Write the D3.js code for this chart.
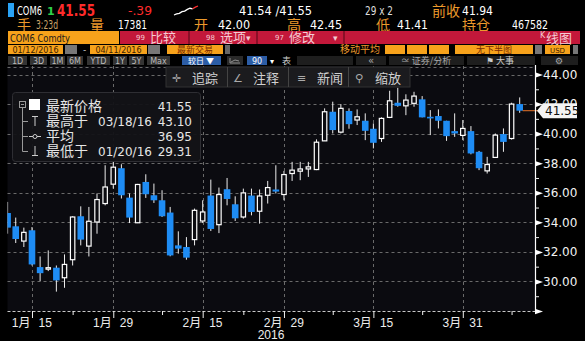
<!DOCTYPE html>
<html>
<head>
<meta charset="utf-8">
<script src="https://cdn.jsdelivr.net/npm/d3@7"></script>
<style>
body { margin: 0; background: #000; }
svg { display: block; }
text { font-family: "DejaVu Sans", "Noto Sans CJK SC", sans-serif; }
</style>
</head>
<body>
<script>
// trading days shown, 01/12/2016 - 04/11/2016
var dates = ["01/12","01/13","01/14","01/15","01/18","01/19","01/20","01/21","01/22","01/25",
  "01/26","01/27","01/28","01/29","02/01","02/02","02/03","02/04","02/05","02/08",
  "02/09","02/10","02/11","02/12","02/15","02/16","02/17","02/18","02/19","02/22",
  "02/23","02/24","02/25","02/26","02/29","03/01","03/02","03/03","03/04","03/07",
  "03/08","03/09","03/10","03/11","03/14","03/15","03/16","03/17","03/18","03/21",
  "03/22","03/23","03/24","03/28","03/29","03/30","03/31","04/01","04/04","04/05",
  "04/06","04/07","04/08","04/11"];
var opens = [34.63,33.73,32.73,33.46,30.97,30.83,30.93,30.25,31.47,34.41,
  32.39,34.02,35.27,36.58,37.66,35.67,33.97,36.73,35.83,35.49,
  34.66,32.44,32.33,32.83,34.09,35.81,33.84,36.24,35.22,34.36,
  35.81,34.75,35.83,36.22,35.88,37.30,37.46,37.61,37.57,39.51,
  41.48,40.10,41.53,40.92,40.87,40.33,39.67,41.10,42.09,41.88,
  42.05,42.32,41.14,41.19,40.87,40.17,39.88,40.17,38.77,37.48,
  38.39,39.97,39.67,42.00];
var highs = [35.38,34.32,33.64,33.68,31.69,32.10,31.08,31.83,34.41,35.08,
  35.04,35.95,37.86,38.09,37.93,35.95,36.60,37.25,36.62,36.17,
  35.04,33.39,33.00,34.93,35.49,36.89,36.35,37.00,35.76,36.28,
  36.28,36.22,36.80,37.86,37.48,38.09,38.09,38.09,39.61,41.71,
  42.16,42.00,41.71,41.64,41.37,40.69,41.10,42.90,43.10,42.66,
  42.83,42.54,41.59,41.64,40.87,41.37,40.92,40.51,38.83,38.43,
  40.01,40.35,42.09,42.45];
var lows = [33.23,32.60,32.33,31.08,30.02,30.70,29.31,29.57,31.08,32.44,
  31.69,33.23,35.15,36.28,35.61,33.95,33.95,35.65,35.31,34.36,
  31.70,31.88,31.47,32.44,33.95,33.41,33.27,35.15,34.09,34.25,
  34.47,33.91,35.27,35.95,35.49,36.80,36.85,37.07,37.53,39.50,
  40.01,40.01,40.33,40.58,39.56,39.00,39.44,41.05,41.82,41.25,
  41.82,41.10,39.90,40.35,39.51,39.78,39.56,38.60,37.53,37.30,
  38.35,38.77,39.60,41.41];
var closes = [33.64,32.87,33.32,31.15,30.56,30.93,30.07,31.15,34.36,32.83,
  34.07,35.54,36.39,37.73,35.83,34.32,36.56,35.90,35.49,34.41,
  31.76,32.22,31.61,34.81,34.70,33.55,35.88,35.58,34.27,35.99,
  34.70,35.78,36.35,36.08,37.23,37.53,37.61,37.75,39.42,41.48,
  40.24,41.71,40.64,41.14,40.19,39.38,41.03,42.22,41.88,42.27,
  42.54,41.10,41.03,40.87,39.83,40.01,40.35,38.66,37.66,37.91,
  39.90,39.44,42.00,41.55];

var majorDates = ["01/15","01/29","02/15","02/29","03/15","03/31"];
var majorLabels = [["1月","15"],["1月","29"],["2月","15"],["2月","29"],["3月","15"],["3月","31"]];
var minorDates = ["01/22","02/08","02/22","03/08","03/23","04/08"];
var yTicks = [28, 30, 32, 34, 36, 38, 40, 42, 44];
var yMinor = [29, 31, 33, 35, 37, 39, 41, 43];

var lastPrice = 41.55;
var legendRows = [
    ["最新价格", "", "41.55"],
    ["最高于", "03/18/16", "43.10"],
    ["平均", "", "36.95"],
    ["最低于", "01/20/16", "29.31"]
];
var spark = [0, 1, 1.5, 3, 3.5, 5, 6, 5.5, 7, 8];

var W = 585, H = 341;
var plot = {left: 7.5, right: 535, top: 66, bottom: 311};

var svg = d3.select("body").append("svg")
    .attr("width", W)
    .attr("height", H);

svg.append("rect").attr("width", W).attr("height", H).attr("fill", "#000");

function label(g, x, y, s, o) {
    o = o || {};
    var t = g.append("text")
        .attr("x", x)
        .attr("y", y)
        .attr("fill", o.fill || "#fff")
        .style("font-size", (o.size || 12) + "px")
        .text(s);
    if (o.anchor) t.attr("text-anchor", o.anchor);
    if (o.bold) t.style("font-weight", "bold");
    if (o.family) t.style("font-family", o.family);
    if (o.len) t.attr("textLength", o.len).attr("lengthAdjust", "spacingAndGlyphs");
    return t;
}
function box(g, x0, y0, x1, y1, fill) {
    return g.append("rect")
        .attr("x", x0).attr("y", y0)
        .attr("width", x1 - x0).attr("height", y1 - y0)
        .attr("fill", fill);
}

// ---------- header ----------
var hd = svg.append("g");
var orange = "#ec9a2c";
var cjk = "Noto Sans CJK SC";

box(hd, 8, 3, 14, 17, "#2aa3f5");
label(hd, 17, 15, "COM6", {size: 12, len: 25});
label(hd, 47, 15, "1", {size: 11, fill: "#2fd04a", bold: true});
label(hd, 57, 16, "41.55", {size: 15, fill: "#ff2b2b", bold: true, len: 38});
label(hd, 128, 15, "-.39", {size: 13, fill: "#ff2b2b", len: 24});

var sx = d3.scaleLinear().domain([0, spark.length - 1]).range([174, 198]);
var sy = d3.scaleLinear().domain([0, 8]).range([15, 6]);
hd.append("path")
    .datum(spark.slice(0, 8))
    .attr("d", d3.line().x((d, i) => sx(i)).y(d => sy(d)))
    .attr("fill", "none").attr("stroke", "#fff").attr("stroke-width", 1.3);
hd.append("path")
    .datum(spark.slice(7))
    .attr("d", d3.line().x((d, i) => sx(i + 7)).y(d => sy(d)))
    .attr("fill", "none").attr("stroke", "#ff3030").attr("stroke-width", 1.3);

label(hd, 239, 15, "41.54 /41.55", {size: 12, len: 73});
label(hd, 365, 15, "29 x 2", {size: 12, fill: "#ddd", len: 28});
label(hd, 432, 16, "前收", {size: 14, fill: orange, family: cjk});
label(hd, 462, 15, "41.94", {size: 12, len: 31});

label(hd, 17, 30, "手", {size: 14, fill: orange, family: cjk});
label(hd, 36, 29, "3:23d", {size: 12, fill: "#c9a36a", len: 22});
label(hd, 90, 30, "量", {size: 14, fill: orange, family: cjk});
label(hd, 118, 29, "17381", {size: 12, len: 29});
label(hd, 194, 30, "开", {size: 14, fill: orange, family: cjk});
label(hd, 218, 29, "42.00", {size: 12, len: 32});
label(hd, 287, 30, "高", {size: 14, fill: orange, family: cjk});
label(hd, 310, 29, "42.45", {size: 12, len: 32});
label(hd, 376, 30, "低", {size: 14, fill: orange, family: cjk});
label(hd, 397, 29, "41.41", {size: 12, len: 31});
label(hd, 462, 30, "持仓", {size: 14, fill: orange, family: cjk});
label(hd, 512, 29, "467582", {size: 12, len: 36});

// red command bar
box(hd, 8, 31, 119, 44, "#f7a21b");
label(hd, 10, 41.5, "COM6 Comdty", {size: 10, fill: "#1a1a1a", len: 60});
box(hd, 120, 31, 580, 44, "#c3183a");
box(hd, 188, 31, 190, 44, "#8a0f27");
box(hd, 256, 31, 258, 44, "#8a0f27");
box(hd, 343, 31, 345, 44, "#8a0f27");
var pink = "#f5cbd3";
label(hd, 136, 40, "99", {size: 7, fill: pink});
label(hd, 150, 42, "比较", {size: 13, fill: pink, family: cjk});
label(hd, 206, 40, "98", {size: 7, fill: pink});
label(hd, 220, 42, "选项", {size: 13, fill: pink, family: cjk});
label(hd, 246, 41, "▾", {size: 9, fill: pink});
label(hd, 275, 40, "97", {size: 7, fill: pink});
label(hd, 289, 42, "修改", {size: 13, fill: pink, family: cjk});
label(hd, 333, 41, "▾", {size: 9, fill: pink});
label(hd, 540, 38, "K", {size: 8, fill: pink});
label(hd, 546, 43, "线图", {size: 13, fill: pink, family: cjk});

// date row
var dark = "#3b2100";
box(hd, 8, 45, 63, 54, "#f7a21b");
label(hd, 35.5, 52.5, "01/12/2016", {size: 8, fill: dark, anchor: "middle"});
box(hd, 65, 45, 77, 54, "#777");
label(hd, 83, 52.5, "-", {size: 9, fill: "#ccc"});
box(hd, 90, 45, 147, 54, "#f7a21b");
label(hd, 118.5, 52.5, "04/11/2016", {size: 8, fill: dark, anchor: "middle"});
box(hd, 148, 45, 160, 54, "#777");
box(hd, 167, 45, 223, 54, "#f7a21b");
label(hd, 195, 53, "最新交易", {size: 9, fill: "#7a2a00", anchor: "middle", family: cjk});
box(hd, 225, 45, 230, 54, "#666");
label(hd, 340, 53, "移动平均", {size: 10, fill: orange, family: cjk, len: 40});
box(hd, 385, 45, 405, 54, "#f7a21b");
box(hd, 407, 45, 427, 54, "#f7a21b");
box(hd, 429, 45, 449, 54, "#f7a21b");
box(hd, 455, 45, 533, 54, "#f7a21b");
label(hd, 494, 53, "无下半图", {size: 9, fill: "#7a2a00", anchor: "middle", family: cjk});
box(hd, 535, 45, 542, 54, "#777");
box(hd, 545, 45, 570, 54, "#f7a21b");
label(hd, 557.5, 52.5, "USD", {size: 7, fill: dark, anchor: "middle"});
box(hd, 573, 45, 578, 54, "#777");

// range buttons
var btns = [[8, 27, "1D"], [30, 47, "3D"], [50, 65, "1M"], [67, 83, "6M"], [87, 110, "YTD"],
    [113, 127, "1Y"], [129, 144, "5Y"], [147, 170, "Max"]];
btns.forEach(function(b) {
    box(hd, b[0], 56, b[1], 65, "#343434");
    label(hd, (b[0] + b[1]) / 2, 63.5, b[2], {size: 8, fill: "#bbb", anchor: "middle"});
});
box(hd, 182, 56, 221, 65, "#2c5da6");
label(hd, 201, 64, "较日 ▼", {size: 8, fill: "#fff", anchor: "middle", family: cjk});
box(hd, 227, 56, 243, 65, "#2a2a2a");
hd.append("path").attr("d", "M230,58 V63 H240 M231,62 L235,60 L239,61")
    .attr("stroke", "#aaa").attr("fill", "none").attr("stroke-width", 0.8);
box(hd, 247, 56, 267, 65, "#2c5da6");
label(hd, 257, 63.5, "90", {size: 8, fill: "#fff", anchor: "middle"});
label(hd, 270, 63.5, "▾", {size: 8, fill: "#fff"});
label(hd, 282, 64, "表", {size: 9, fill: "#ccc", family: cjk});
box(hd, 297, 56, 353, 65, "#1e1e1e");
box(hd, 356, 56, 386, 65, "#1e1e1e");
label(hd, 371, 63.5, "«", {size: 10, fill: "#aaa", anchor: "middle"});
box(hd, 389, 56, 464, 65, "#1e1e1e");
label(hd, 426, 64, "≃ 证券/分析", {size: 9, fill: "#aaa", anchor: "middle", family: cjk});
box(hd, 467, 56, 535, 65, "#1e1e1e");
label(hd, 500, 64, "⚑ 大事", {size: 9, fill: "#ccc", anchor: "middle", family: cjk});
box(hd, 541, 56, 578, 65, "#1e1e1e");
label(hd, 559, 64, "⚙", {size: 9, fill: "#aaa", anchor: "middle"});

// ---------- chart ----------
var x = d3.scalePoint().domain(dates).range([7.6, 519.7]);
var y = d3.scaleLinear().domain([28, 44]).range([311, 74.5]);

svg.append("defs").append("clipPath").attr("id", "plotclip")
    .append("rect")
    .attr("x", plot.left).attr("y", plot.top)
    .attr("width", plot.right - plot.left).attr("height", plot.bottom - plot.top);

box(svg, plot.left, plot.top, plot.right, plot.bottom, "#0b0b10");

var grid = svg.append("g").attr("stroke", "#6a6a6a").attr("stroke-dasharray", "3,3").attr("stroke-width", 1);
grid.selectAll(".hg")
    .data(yTicks.filter(d => d > 28).concat([y.invert(plot.top + 0.5)]))
    .enter().append("line")
    .attr("x1", plot.left).attr("x2", plot.right)
    .attr("y1", d => Math.round(y(d)) + 0.5).attr("y2", d => Math.round(y(d)) + 0.5);
grid.selectAll(".vg")
    .data(majorDates)
    .enter().append("line")
    .attr("x1", d => Math.round(x(d)) + 0.5).attr("x2", d => Math.round(x(d)) + 0.5)
    .attr("y1", plot.top).attr("y2", plot.bottom);

// candles
var candles = dates.map(function(d, i) {
    return {date: d, o: opens[i], h: highs[i], l: lows[i], c: closes[i]};
});
var cg = svg.append("g").attr("clip-path", "url(#plotclip)");
cg.selectAll(".wick")
    .data(candles)
    .enter().append("line")
    .attr("class", "wick")
    .attr("x1", d => x(d.date)).attr("x2", d => x(d.date))
    .attr("y1", d => y(d.h)).attr("y2", d => y(d.l))
    .attr("stroke", "#ececec").attr("stroke-width", 1);
cg.selectAll(".body")
    .data(candles)
    .enter().append("rect")
    .attr("class", "body")
    .attr("x", d => d.c < d.o ? x(d.date) - 3.3 : x(d.date) - 2.2)
    .attr("width", d => d.c < d.o ? 6.6 : 4.4)
    .attr("y", d => y(Math.max(d.o, d.c)))
    .attr("height", d => Math.max(1.2, Math.abs(y(d.o) - y(d.c))))
    .attr("fill", d => d.c < d.o ? "#1e8cf4" : "#0b0b10")
    .attr("stroke", d => d.c < d.o ? "none" : "#fff")
    .attr("stroke-width", 1.2);

// last price line
svg.append("line")
    .attr("x1", x(dates[dates.length - 1]) + 3).attr("x2", 538)
    .attr("y1", y(lastPrice)).attr("y2", y(lastPrice))
    .attr("stroke", "#e8742a").attr("stroke-width", 1);

// bottom axis
var xAxisG = svg.append("g").attr("transform", "translate(0," + plot.bottom + ")");
xAxisG.append("line")
    .attr("x1", plot.left).attr("x2", plot.right).attr("y1", 0.5).attr("y2", 0.5)
    .attr("stroke", "#c8c8c8").attr("stroke-dasharray", "3,2");
xAxisG.append("g")
    .call(d3.axisBottom(x).tickValues(majorDates).tickSize(7).tickFormat(""))
    .call(g => g.select(".domain").remove())
    .call(g => g.selectAll(".tick line").attr("stroke", "#eee"));
xAxisG.append("g")
    .call(d3.axisBottom(x).tickValues(minorDates).tickSize(4).tickFormat(""))
    .call(g => g.select(".domain").remove())
    .call(g => g.selectAll(".tick line").attr("stroke", "#eee"));
majorDates.forEach(function(d, i) {
    label(xAxisG, x(d) - 1.5, 15.5, majorLabels[i][0],
        {size: 12, fill: "#eee", anchor: "end", family: "Liberation Sans, Noto Sans CJK SC"});
    label(xAxisG, x(d) + 6.5, 15.5, majorLabels[i][1],
        {size: 12, fill: "#eee", family: "Liberation Sans"});
});
label(svg, 271, 338.5, "2016", {size: 12, fill: "#eee", anchor: "middle", family: "Liberation Sans"});

// right axis
var yAxisG = svg.append("g").attr("transform", "translate(" + plot.right + ",0)");
yAxisG.append("line")
    .attr("x1", 0.5).attr("x2", 0.5).attr("y1", plot.top - 1).attr("y2", plot.bottom + 1)
    .attr("stroke", "#fff").attr("stroke-width", 1.2);
yAxisG.append("g")
    .call(d3.axisRight(y).tickValues(yMinor).tickSize(4).tickFormat(""))
    .call(g => g.select(".domain").remove())
    .call(g => g.selectAll(".tick line").attr("stroke", "#eee"));
yAxisG.append("g")
    .call(d3.axisRight(y).tickValues(yTicks).tickSize(0).tickPadding(8)
        .tickFormat(d => d === 28 ? "" : d3.format(".2f")(d)))
    .call(g => g.select(".domain").remove())
    .call(g => g.selectAll(".tick text")
        .attr("fill", "#f2f2f2")
        .style("font-size", "12px")
        .style("font-family", "DejaVu Sans"))
    .call(g => g.selectAll(".tick").append("path")
        .attr("d", "M0,-2.8 L8,0 L0,2.8 Z")
        .attr("fill", "#fff"));

// last price tag
var ly = y(lastPrice);
svg.append("path")
    .attr("d", "M537," + ly + " L543," + (ly - 7.5) + " H577 V" + (ly + 7.5) + " H543 Z")
    .attr("fill", "#f4f4f4");
label(svg, 545, ly + 4.5, "41.55", {size: 12, fill: "#111"});

// toolbar
var tb = svg.append("g");
box(tb, 166, 67, 410, 87, "#1b1b1e").attr("stroke", "#333").attr("stroke-width", 1);
[227, 288, 348].forEach(function(sx) {
    tb.append("line").attr("x1", sx + 0.5).attr("x2", sx + 0.5).attr("y1", 67).attr("y2", 87)
        .attr("stroke", "#444");
});
var tool = [[172, "✛", "追踪"], [233, "∠", "注释"], [297, "≡", "新闻"], [355, "⚲", "缩放"]];
tool.forEach(function(t) {
    label(tb, t[0], 82, t[1], {size: 11, fill: "#aaa"});
    label(tb, t[0] + 20, 82.5, t[2], {size: 13, fill: "#d0d0d0", family: cjk});
});

// legend
var lg = svg.append("g");
lg.append("rect")
    .attr("x", 12.5).attr("y", 92.5).attr("width", 188).attr("height", 69).attr("rx", 3)
    .attr("fill", "#131317").attr("fill-opacity", 0.95)
    .attr("stroke", "#2e2e33");
var tree = "#9a9a9a";
lg.append("rect").attr("x", 19.5).attr("y", 101.5).attr("width", 6).attr("height", 6)
    .attr("fill", "none").attr("stroke", tree);
lg.append("path")
    .attr("d", "M21,104.5 H24 M22.5,107.5 V151.5 M22.5,121.5 H28 M22.5,136.5 H28 M22.5,151.5 H28")
    .attr("stroke", tree).attr("fill", "none");
lg.append("rect").attr("x", 29).attr("y", 99).attr("width", 11).attr("height", 11).attr("fill", "#fff");
lg.append("path").attr("d", "M32,116.5 H38 M35,116.5 V126").attr("stroke", "#ccc").attr("fill", "none");
lg.append("path").attr("d", "M29,136.5 H41").attr("stroke", "#ccc");
lg.append("circle").attr("cx", 35).attr("cy", 136.5).attr("r", 2).attr("fill", "#0b0b10").attr("stroke", "#ccc");
lg.append("path").attr("d", "M35,146 V155.5 M32,155.5 H38").attr("stroke", "#ccc").attr("fill", "none");
legendRows.forEach(function(r, i) {
    var by = 110.5 + i * 15;
    label(lg, 46, by + 0.5, r[0], {size: 14, fill: "#e6e6e6", family: cjk});
    if (r[1]) label(lg, 98, by, r[1], {size: 12, fill: "#e6e6e6"});
    label(lg, 192, by, r[2], {size: 12, fill: "#e6e6e6", anchor: "end"});
});
</script>
</body>
</html>
